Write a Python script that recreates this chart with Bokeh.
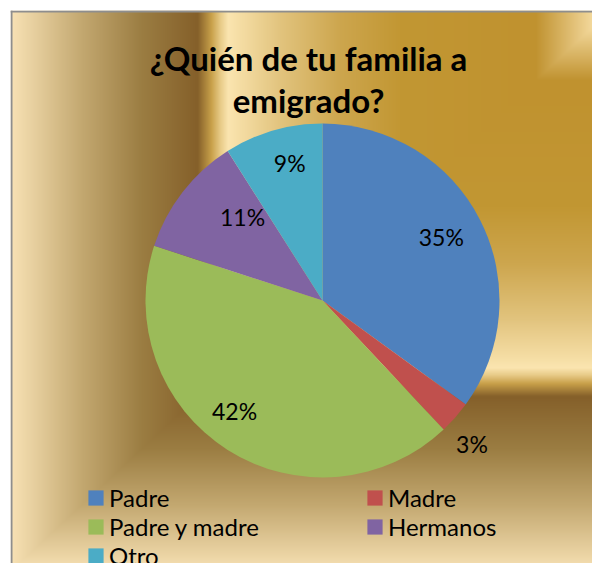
import numpy as np
from bokeh.plotting import figure
from bokeh.models import Range1d, ColumnDataSource, Legend, LegendItem
from bokeh.core.properties import value
from bokeh.embed import file_html
from bokeh.resources import INLINE

# ---------------- data ----------------
categories = ["Padre", "Madre", "Padre y madre", "Hermanos", "Otro"]
percents = [35, 3, 42, 11, 9]
colors = ["#4F81BD", "#C0504D", "#9BBB59", "#8064A2", "#4BACC6"]
title_lines = ["¿Quién de tu familia a", "emigrado?"]

# ---------------- layout / style ----------------
W, H = 592, 563
X0, X1 = 10, 592          # frame in page pixels
Y_TOP, Y_BOT = 10, 563
def py(y_img):            # page y -> data y
    return Y_BOT - y_img

p = figure(width=W, height=H, x_range=Range1d(X0, X1), y_range=Range1d(0, Y_BOT - Y_TOP),
           output_backend="svg", toolbar_location=None, x_axis_location=None,
           y_axis_location=None, min_border_left=10, min_border_top=10,
           min_border_right=0, min_border_bottom=0, title=None)
p.grid.visible = False
p.outline_line_color = None
p.border_fill_color = "white"
p.background_fill_color = "white"

# gold gradient background (rectangular gradient from the top-right corner)
nx, ny = X1 - X0, Y_BOT - Y_TOP
xs = X0 + np.arange(nx) + 0.5
ys = Y_BOT - (np.arange(ny) + 0.5)
XX, YY = np.meshgrid(xs, ys)
t = np.clip(np.maximum((610 - XX) / 600.0, (YY - 10) / 561.0), 0, 1)
stops = [0.0, 0.03, 0.125, 0.35, 0.45, 0.55, 0.637, 0.650, 0.665, 0.688, 0.78, 0.88, 1.0]
hexes = ["#FBE6B2", "#F4D99C", "#C0922F", "#C29733", "#CDA64E", "#E2C47E", "#FBE5B0",
         "#E8CB88", "#C9A14A", "#85602A", "#9B7D42", "#C3A870", "#F9E3B6"]
rgb = np.array([[int(h[i:i + 2], 16) for i in (1, 3, 5)] for h in hexes], dtype=float)
img = np.zeros((ny, nx), dtype=np.uint32)
view = img.view(dtype=np.uint8).reshape((ny, nx, 4))
for c in range(3):
    view[:, :, c] = np.interp(t, stops, rgb[:, c]).astype(np.uint8)
view[:, :, 3] = 255
p.image_rgba(image=[img], x=X0, y=0, dw=nx, dh=ny)

# chart border (left / top visible)
p.segment(x0=[11, 10], y0=[0, py(11)], x1=[11, X1], y1=[py(10), py(11)],
          line_color="#8E8E8E", line_width=2)

# pie
cx, cy, R = 322, py(300), 177
frac = np.array(percents, dtype=float) / sum(percents)
cum = np.cumsum(frac)
start = np.pi / 2 - 2 * np.pi * (cum - frac)
end = np.pi / 2 - 2 * np.pi * cum
src = ColumnDataSource(dict(cat=categories, pct=percents, color=colors, start=start, end=end))
r = p.wedge(x=cx, y=cy, radius=R, start_angle="start", end_angle="end", direction="clock",
            fill_color="color", line_color=None, source=src)

# data labels
mid = (start + end) / 2
lab_r = np.array([0.76, 1.17, 0.80, 0.655, 0.80])
lab_dang = np.radians([1.0, -2.4, -6.0, -8.6, -2.8])
lx = cx + R * lab_r * np.cos(mid + lab_dang)
ly = cy + R * lab_r * np.sin(mid + lab_dang)
p.text(x=lx, y=ly, text=[f"{v}%" for v in percents], text_align="center",
       text_baseline="middle", text_font=value("Lato"), text_font_size="23px",
       text_color="black")

# title
p.text(x=[308, 308], y=[py(57), py(99)], text=title_lines, text_align="center",
       text_baseline="middle", text_font=value("Lato"), text_font_size="33px",
       text_font_style="bold", text_color="black")

# legend
legend = Legend(items=[LegendItem(label=c, renderers=[r], index=i) for i, c in enumerate(categories)],
                orientation="horizontal", ncols=2, location=(76, -7),
                glyph_width=19, glyph_height=19, label_standoff=4, label_width=256,
                label_height=29, spacing=0, padding=0, margin=0,
                border_line_color=None, background_fill_alpha=0,
                label_text_font="Lato", label_text_font_size="24px", label_text_color="black")
p.add_layout(legend, "center")

open("out.html", "w").write(file_html(p, INLINE))
